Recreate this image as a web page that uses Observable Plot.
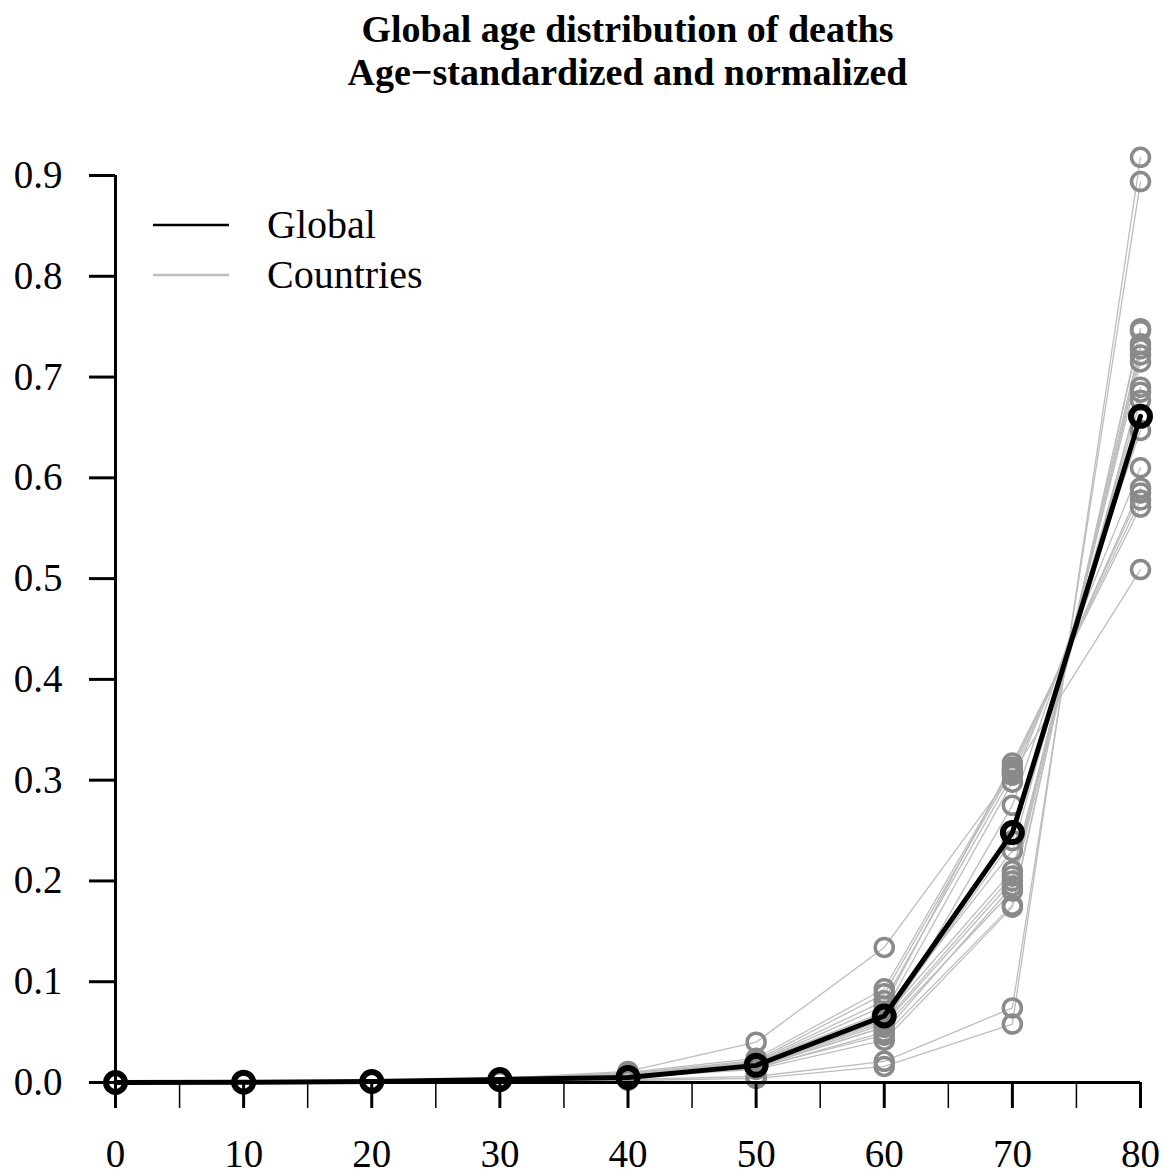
<!DOCTYPE html>
<html>
<head>
<meta charset="utf-8">
<script src="https://cdn.jsdelivr.net/npm/d3@7"></script>
<script src="https://cdn.jsdelivr.net/npm/@observablehq/plot@0.6"></script>
<style>
  html, body { margin: 0; padding: 0; background: #fff; }
  #wrap { position: relative; width: 1163px; height: 1176px; font-family: "Liberation Serif", "Times New Roman", serif; }
  #title { position: absolute; left: 115px; width: 1025px; top: 8px; text-align: center; font-weight: bold; font-size: 38px; line-height: 43px; color: #000; }
  #legend { position: absolute; left: 0; top: 0; pointer-events: none; }
  #chart { position: absolute; left: 0; top: 100px; }
</style>
</head>
<body>
<div id="wrap">
  <div id="title">Global age distribution of deaths<br>Age−standardized and normalized</div>
  <div id="chart"></div>
  <svg id="legend" width="520" height="320">
    <line x1="153" x2="229" y1="225" y2="225" stroke="#000" stroke-width="2.5"/>
    <line x1="153" x2="229" y1="275" y2="275" stroke="#bebebe" stroke-width="2.5"/>
    <text x="267" y="238" font-family="Liberation Serif" font-size="40" fill="#000">Global</text>
    <text x="267" y="288" font-family="Liberation Serif" font-size="40" fill="#000">Countries</text>
  </svg>
</div>
<script>
const ages = [0, 10, 20, 30, 40, 50, 60, 70, 80];
const minorTicks = [5, 15, 25, 35, 45, 55, 65, 75];
const yTicks = [0, 0.1, 0.2, 0.3, 0.4, 0.5, 0.6, 0.7, 0.8, 0.9];

const globalValues = [0, 0.0003, 0.001, 0.003, 0.005, 0.017, 0.066, 0.248, 0.661];

const country01 = [0, 0, 0.0005, 0.001, 0.002, 0.004, 0.016, 0.058, 0.918];
const country02 = [0, 0, 0.0005, 0.001, 0.003, 0.006, 0.021, 0.074, 0.894];
const country03 = [0, 0.0002, 0.001, 0.002, 0.006, 0.015, 0.047, 0.176, 0.748];
const country04 = [0, 0.0002, 0.001, 0.002, 0.005, 0.013, 0.042, 0.174, 0.746];
const country05 = [0, 0.0002, 0.001, 0.002, 0.005, 0.014, 0.050, 0.195, 0.733];
const country06 = [0, 0.0002, 0.001, 0.003, 0.006, 0.015, 0.055, 0.190, 0.728];
const country07 = [0, 0.0002, 0.001, 0.003, 0.006, 0.016, 0.058, 0.200, 0.722];
const country08 = [0, 0.0003, 0.001, 0.003, 0.007, 0.017, 0.060, 0.205, 0.715];
const country09 = [0, 0.0003, 0.001, 0.003, 0.007, 0.018, 0.065, 0.210, 0.690];
const country10 = [0, 0.0003, 0.001, 0.003, 0.006, 0.016, 0.068, 0.230, 0.685];
const country11 = [0, 0.0003, 0.001, 0.003, 0.006, 0.017, 0.062, 0.240, 0.677];
const country12 = [0, 0.0002, 0.001, 0.003, 0.006, 0.016, 0.055, 0.275, 0.647];
const country13 = [0, 0.0002, 0.001, 0.003, 0.008, 0.020, 0.070, 0.298, 0.610];
const country14 = [0, 0.0003, 0.001, 0.003, 0.008, 0.021, 0.081, 0.305, 0.590];
const country15 = [0, 0.0003, 0.001, 0.003, 0.009, 0.022, 0.088, 0.310, 0.585];
const country16 = [0, 0.0003, 0.001, 0.004, 0.010, 0.024, 0.093, 0.313, 0.578];
const country17 = [0, 0.0003, 0.002, 0.004, 0.011, 0.040, 0.134, 0.307, 0.509];
const country18 = [0, 0.0003, 0.001, 0.003, 0.009, 0.020, 0.076, 0.317, 0.571];

const countries = [country01, country02, country03, country04, country05, country06,
  country07, country08, country09, country10, country11, country12, country13,
  country14, country15, country16, country17, country18];

const countryRows = countries.flatMap((vals, i) =>
  vals.map((v, j) => ({country: i, age: ages[j], value: v})));
const globalRows = globalValues.map((v, j) => ({age: ages[j], value: v}));

const chart = Plot.plot({
  width: 1163,
  height: 1076,
  marginLeft: 115,
  marginRight: 23,
  marginTop: 75,
  marginBottom: 94,
  style: {fontFamily: "Liberation Serif", fontSize: "39px", background: "#fff", overflow: "visible"},
  x: {domain: [0, 80], label: null},
  y: {domain: [0, 0.9], label: null},
  marks: [
    Plot.line(countryRows, {x: "age", y: "value", z: "country", stroke: "#bdbdbd", strokeWidth: 1.3}),
    Plot.dot(countryRows, {x: "age", y: "value", r: 9, stroke: "#8a8a8a", strokeWidth: 3.5, fill: "none"}),
    Plot.line(globalRows, {x: "age", y: "value", stroke: "#000", strokeWidth: 5}),
    Plot.dot(globalRows, {x: "age", y: "value", r: 9.5, stroke: "#000", strokeWidth: 6, fill: "none"}),
    Plot.ruleX([0], {y1: 0, y2: 0.9, stroke: "#000", strokeWidth: 3}),
    Plot.ruleY([0], {x1: 0, x2: 80, stroke: "#000", strokeWidth: 3}),
    Plot.axisY({ticks: yTicks, tickSize: 26, tickPadding: 27, fontSize: 39, strokeWidth: 3, tickFormat: d3.format(".1f"), label: null}),
    Plot.axisX({ticks: ages, tickSize: 26, tickPadding: 31, fontSize: 39, strokeWidth: 3, tickFormat: d3.format("d"), label: null}),
    Plot.axisX({ticks: minorTicks, tickSize: 26, strokeWidth: 1.5, tickFormat: () => "", label: null})
  ]
});
document.getElementById("chart").appendChild(chart);
</script>
</body>
</html>
